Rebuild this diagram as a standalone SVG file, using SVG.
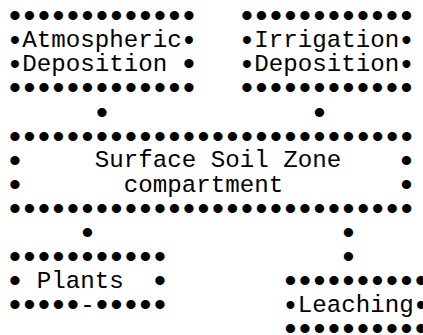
<svg xmlns="http://www.w3.org/2000/svg" width="423" height="335" viewBox="0 0 423 335">
  <style>
    text { font-family: "Liberation Mono", "Courier New", monospace; fill: #000; white-space: pre; }
    /* bullet runs: larger glyph, tightened so each bullet still takes one 14.5px cell */
    .dot { font-size: 34px; letter-spacing: -5.9px; }
    /* bullets set tight against a word are a touch smaller */
    .dot-sm { font-size: 29px; }
    .lbl { font-size: 24.17px; }
  </style>
  <rect width="423" height="335" fill="#fff"/>
  <!-- grid: cell c centred at x = 15 + 14.5*c, row r centred at y = 15 + 24.08*r -->
  <g id="atmospheric-deposition">
    <text class="dot" x="4.8" y="27.24">•••••••••••••</text>
    <text class="dot-sm" x="6.3" y="49.6">•</text>
    <text class="lbl" x="22.25" y="47.08">Atmospheric</text>
    <text class="dot-sm" x="180.3" y="49.6">•</text>
    <text class="dot-sm" x="6.3" y="73.7">•</text>
    <text class="lbl" x="22.25" y="71.16">Deposition</text>
    <text class="dot" x="178.8" y="75.4">•</text>
    <text class="dot" x="4.8" y="99.48">•••••••••••••</text>
  </g>
  <g id="irrigation-deposition">
    <text class="dot" x="236.8" y="27.24">••••••••••••</text>
    <text class="dot-sm" x="238.3" y="49.6">•</text>
    <text class="lbl" x="254.25" y="47.08">Irrigation</text>
    <text class="dot-sm" x="397.8" y="49.6">•</text>
    <text class="dot-sm" x="238.3" y="73.7">•</text>
    <text class="lbl" x="254.25" y="71.16">Deposition</text>
    <text class="dot-sm" x="397.8" y="73.7">•</text>
    <text class="dot" x="236.8" y="99.48">••••••••••••</text>
  </g>
  <g id="surface-soil-zone">
    <text class="dot" x="4.8" y="147.64">••••••••••••••••••••••••••••</text>
    <text class="dot" x="4.8" y="171.72">•</text>
    <text class="lbl" x="94.75" y="167.48">Surface Soil Zone</text>
    <text class="dot" x="396.3" y="171.72">•</text>
    <text class="dot" x="4.8" y="195.8">•</text>
    <text class="lbl" x="123.75" y="191.56">compartment</text>
    <text class="dot" x="396.3" y="195.8">•</text>
    <text class="dot" x="4.8" y="219.88">••••••••••••••••••••••••••••</text>
  </g>
  <g id="plants">
    <text class="dot" x="4.8" y="268.04">•••••••••••</text>
    <text class="dot" x="4.8" y="292.12">•</text>
    <text class="lbl" x="36.75" y="287.88">Plants</text>
    <text class="dot" x="149.8" y="292.12">•</text>
    <text class="dot" x="4.8" y="316.2">•••••</text>
    <text class="lbl" x="80.25" y="311.96">-</text>
    <text class="dot" x="91.8" y="316.2">•••••</text>
  </g>
  <g id="leaching">
    <text class="dot" x="280.3" y="292.12">••••••••••</text>
    <text class="dot-sm" x="281.8" y="314.5">•</text>
    <text class="lbl" x="297.75" y="311.96">Leaching</text>
    <text class="dot-sm" x="412.3" y="314.5">•</text>
    <text class="dot" x="280.3" y="340.28">••••••••••</text>
  </g>
  <g id="connectors">
    <text class="dot" x="91.8" y="123.56">•</text>
    <text class="dot" x="309.3" y="123.56">•</text>
    <text class="dot" x="77.3" y="243.96">•</text>
    <text class="dot" x="338.3" y="243.96">•</text>
    <text class="dot" x="338.3" y="268.04">•</text>
  </g>
</svg>
